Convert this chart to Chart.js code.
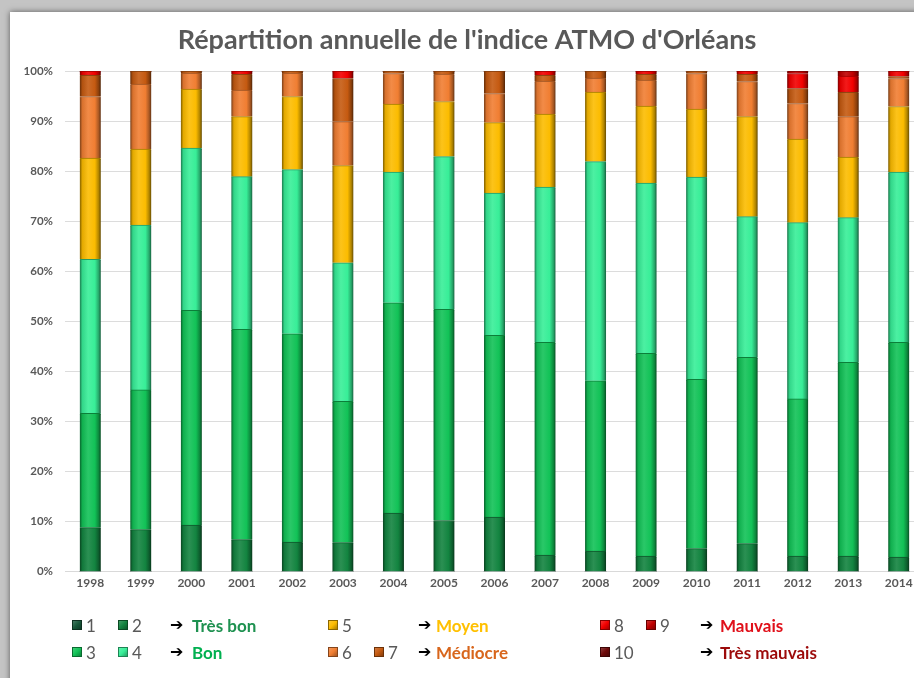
<!DOCTYPE html>
<html>
<head>
<meta charset="utf-8">
<script src="https://cdn.jsdelivr.net/npm/chart.js@4"></script>
<style>
  html, body { margin: 0; padding: 0; }
  body { width: 914px; height: 678px; overflow: hidden; position: relative; background: #c4c4c4; font-family: Lato, "Open Sans", sans-serif; }
  #panel { position: absolute; left: 10px; top: 12px; width: 1000px; height: 700px; background: #fff; box-shadow: 0 0 6px rgba(0,0,0,0.55); }
  #myChart { position: absolute; left: 0; top: 0; }
  .sq { position: absolute; width: 10px; height: 10px; }
  .num { position: absolute; font-size: 17px; color: #595959; transform: translateY(-50%); line-height: 1; }
  .arr { position: absolute; font-family: "DejaVu Sans"; font-weight: bold; font-size: 16px; color: #000; transform: translateY(-50%); line-height: 1; }
  .lab { position: absolute; font-size: 17px; font-weight: bold; transform: translateY(-50%); line-height: 1; white-space: nowrap; }
</style>
</head>
<body>
<div id="panel"></div>
<canvas id="myChart" width="950" height="678"></canvas>
<div id="legend"></div>
<script>
// années
const years = ['1998', '1999', '2000', '2001', '2002', '2003', '2004', '2005', '2006', '2007', '2008', '2009', '2010', '2011', '2012', '2013', '2014'];

// part des jours (%) pour chaque indice ATMO
const atmo1 = [0, 0, 0, 0, 0, 0, 0, 0, 0, 0, 0, 0, 0, 0, 0, 0, 0];
const atmo2 = [8.8, 8.4, 9.3, 6.4, 5.9, 5.8, 11.7, 10.2, 10.9, 3.3, 4.1, 3.1, 4.6, 5.6, 3.1, 3.1, 2.9];
const atmo3 = [22.8, 27.9, 42.9, 42.0, 41.6, 28.2, 42.0, 42.2, 36.3, 42.5, 34.0, 40.5, 33.8, 37.2, 31.4, 38.7, 42.9];
const atmo4 = [30.8, 32.9, 32.4, 30.5, 32.8, 27.7, 26.1, 30.5, 28.4, 31.0, 43.8, 34.0, 40.4, 28.1, 35.2, 28.9, 34.0];
const atmo5 = [20.2, 15.2, 11.8, 12.0, 14.6, 19.4, 13.6, 11.0, 14.1, 14.6, 13.9, 15.4, 13.6, 20.0, 16.7, 12.1, 13.1];
const atmo6 = [12.3, 13.0, 3.2, 5.3, 4.7, 8.8, 6.1, 5.5, 5.8, 6.6, 2.8, 5.2, 7.1, 7.0, 7.1, 8.1, 5.6];
const atmo7 = [4.3, 2.6, 0.4, 3.2, 0.4, 8.6, 0.5, 0.6, 4.5, 1.2, 1.4, 1.2, 0.5, 1.5, 3.0, 4.9, 0.4];
const atmo8 = [0.8, 0, 0, 0.6, 0, 1.5, 0, 0, 0, 0.8, 0, 0.6, 0, 0.6, 3.0, 3.2, 1.1];
const atmo9 = [0, 0, 0, 0, 0, 0, 0, 0, 0, 0, 0, 0, 0, 0, 0.5, 1.0, 0];
const atmo10 = [0, 0, 0, 0, 0, 0, 0, 0, 0, 0, 0, 0, 0, 0, 0, 0, 0];

const yTicks = [0, 10, 20, 30, 40, 50, 60, 70, 80, 90, 100];

const colors = ['#17583a', '#138440', '#12c257', '#38ee98', '#fcbc00', '#f07e32', '#c55a11', '#f20000', '#c00000', '#6e0a0a'];
const series = [atmo1, atmo2, atmo3, atmo4, atmo5, atmo6, atmo7, atmo8, atmo9, atmo10];

const barW = 21;

function shade(hex, f) {
    const n = parseInt(hex.slice(1), 16);
    let r = n >> 16, g = (n >> 8) & 255, b = n & 255;
    if (f < 0) { r *= 1 + f; g *= 1 + f; b *= 1 + f; }
    else { r += (255 - r) * f; g += (255 - g) * f; b += (255 - b) * f; }
    return 'rgb(' + Math.round(r) + ',' + Math.round(g) + ',' + Math.round(b) + ')';
}

// effet biseau façon Excel
function bevel(color) {
    return function(c) {
        if (c.type !== 'data') return color;
        const chart = c.chart, xs = chart.scales.x;
        if (!xs || !chart.chartArea) return color;
        const x = xs.getPixelForValue(c.dataIndex);
        const g = chart.ctx.createLinearGradient(x - barW / 2, 0, x + barW / 2, 0);
        g.addColorStop(0, shade(color, -0.5));
        g.addColorStop(0.12, shade(color, -0.1));
        g.addColorStop(0.4, shade(color, 0.1));
        g.addColorStop(0.72, color);
        g.addColorStop(0.9, shade(color, -0.3));
        g.addColorStop(1, shade(color, -0.6));
        return g;
    };
}

var ctx = document.getElementById('myChart').getContext('2d');

var grafico = new Chart(ctx, {
    type: 'bar',
    data: {
        labels: years,
        datasets: series.map(function(d, i) {
            return {
                label: String(i + 1),
                data: d,
                backgroundColor: bevel(colors[i]),
                borderColor: shade(colors[i], -0.35),
                borderWidth: { top: 1, left: 0, right: 0, bottom: 0 },
                borderSkipped: 'start',
                barThickness: barW
            };
        })
    },
    options: {
        responsive: false,
        animation: false,
        layout: { padding: { left: 10, right: 26, top: 0, bottom: 84 } },
        plugins: {
            legend: { display: false },
            tooltip: { enabled: false },
            title: {
                display: true,
                text: "Répartition annuelle de l'indice ATMO d'Orléans",
                color: '#595959',
                font: { family: 'Lato', size: 27, weight: 'bold' },
                padding: { top: 24, bottom: 14.6 }
            }
        },
        scales: {
            x: {
                stacked: true,
                grid: { display: false, drawTicks: false },
                border: { display: true, color: '#d9d9d9' },
                ticks: { color: '#595959', font: { family: 'Lato', size: 12, weight: 'bold' }, padding: 4, maxRotation: 0, autoSkip: false }
            },
            y: {
                stacked: true,
                min: 0,
                max: 100,
                afterBuildTicks: function(s) { s.ticks = yTicks.map(function(v) { return { value: v }; }); },
                afterFit: function(s) { s.width = 55; },
                grid: { color: '#dcdcdc', drawTicks: false },
                border: { display: false },
                ticks: {
                    color: '#595959',
                    padding: 12,
                    font: { family: 'Lato', size: 11.5, weight: 'bold' },
                    callback: function(v) { return v + '%'; }
                }
            }
        }
    }
});

// légende maison : indices regroupés par qualificatif
const groups = [
    { idx: [0, 1], x: 72, row: 0, text: 'Très bon', color: '#1e9150', ax: 170, tx: 192 },
    { idx: [2, 3], x: 72, row: 1, text: 'Bon', color: '#00b050', ax: 170, tx: 192 },
    { idx: [4], x: 328, row: 0, text: 'Moyen', color: '#ffc000', ax: 418, tx: 436 },
    { idx: [5, 6], x: 328, row: 1, text: 'Médiocre', color: '#d8661c', ax: 418, tx: 436 },
    { idx: [7, 8], x: 600, row: 0, text: 'Mauvais', color: '#e0101a', ax: 700, tx: 720 },
    { idx: [9], x: 600, row: 1, text: 'Très mauvais', color: '#9c0a0a', ax: 700, tx: 720 }
];
const rowY = [625, 652];
const leg = document.getElementById('legend');
groups.forEach(function(g) {
    const y = rowY[g.row];
    g.idx.forEach(function(k, j) {
        const x = g.x + j * 46;
        const sq = document.createElement('div');
        sq.className = 'sq';
        sq.style.left = x + 'px';
        sq.style.top = (y - 5) + 'px';
        sq.style.background = 'linear-gradient(135deg, ' + shade(colors[k], 0.25) + ', ' + colors[k] + ' 50%, ' + shade(colors[k], -0.4) + ')';
        sq.style.boxShadow = 'inset 0 0 0 1px ' + shade(colors[k], -0.45);
        leg.appendChild(sq);
        const n = document.createElement('div');
        n.className = 'num';
        n.style.left = (x + 14) + 'px';
        n.style.top = y + 'px';
        n.textContent = String(k + 1);
        leg.appendChild(n);
    });
    const a = document.createElement('div');
    a.className = 'arr';
    a.style.left = g.ax + 'px';
    a.style.top = y + 'px';
    a.textContent = '➔';
    leg.appendChild(a);
    const t = document.createElement('div');
    t.className = 'lab';
    t.style.left = g.tx + 'px';
    t.style.top = y + 'px';
    t.style.color = g.color;
    t.textContent = g.text;
    leg.appendChild(t);
});
</script>
</body>
</html>
